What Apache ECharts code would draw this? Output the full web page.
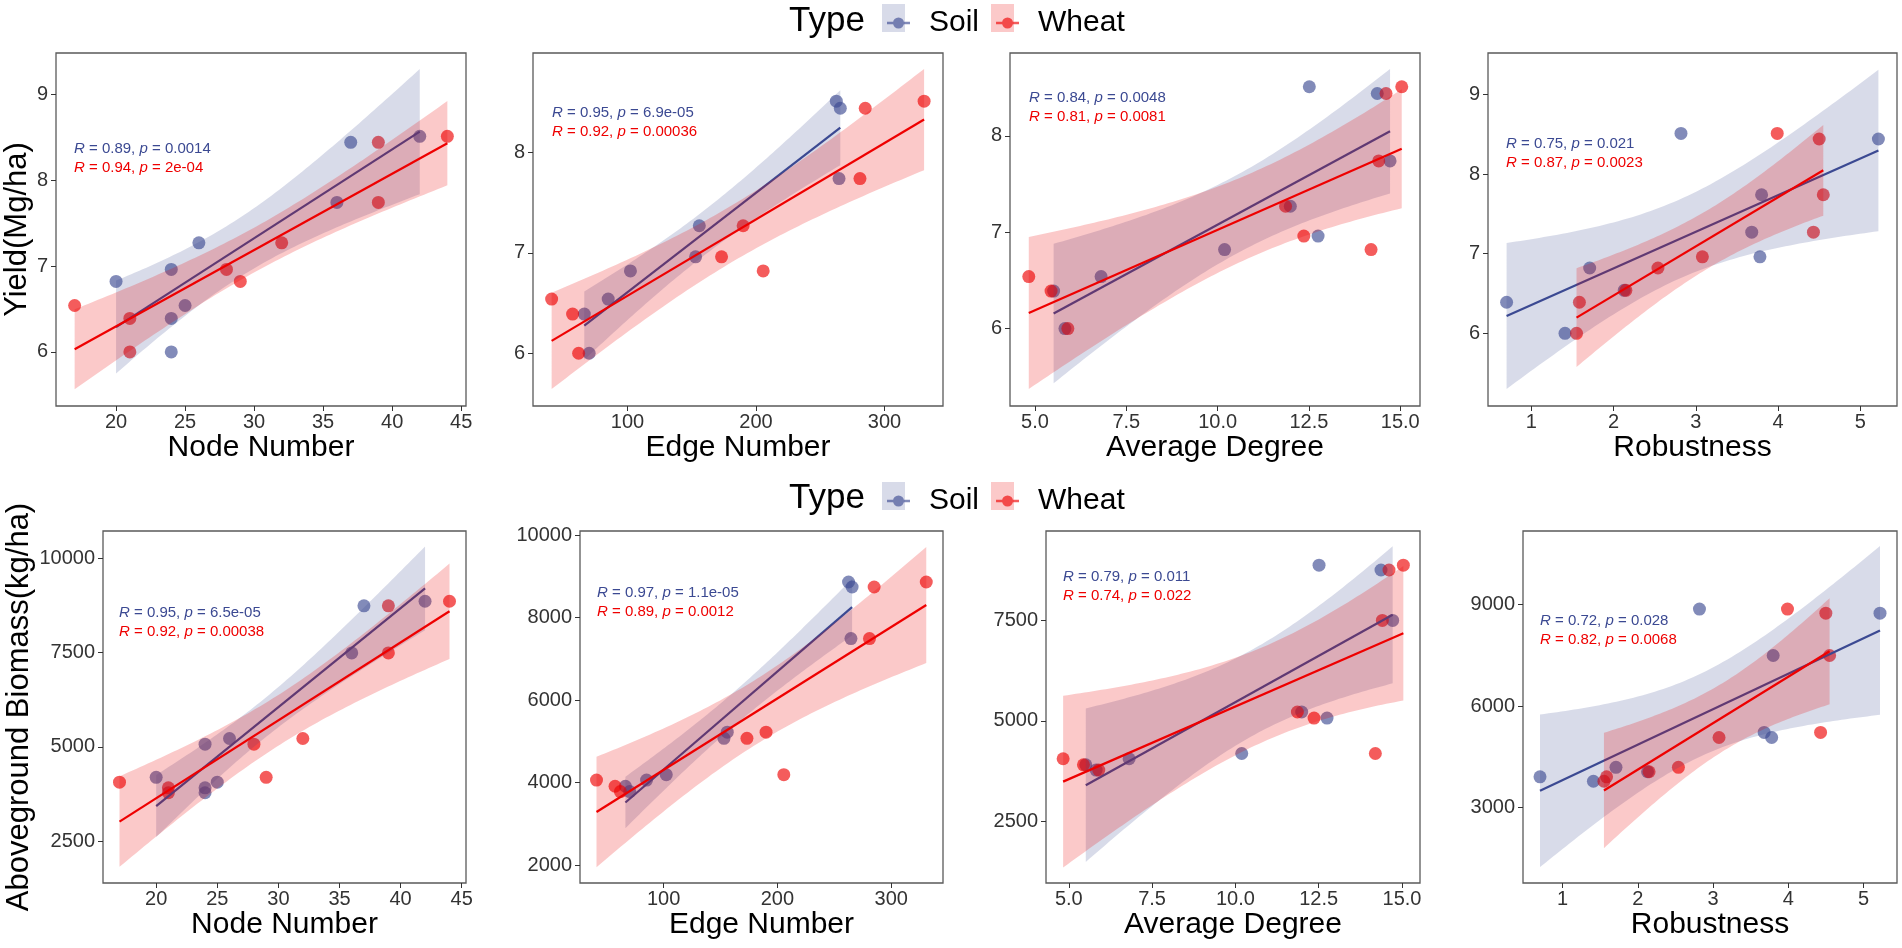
<!DOCTYPE html>
<html>
<head>
<meta charset="utf-8">
<title>Network properties vs yield and biomass</title>
<script src="https://cdn.jsdelivr.net/npm/echarts@6/dist/echarts.min.js"></script>
<style>
  html, body { margin: 0; padding: 0; background: #fff; }
  #chart { width: 1902px; height: 948px; }
</style>
</head>
<body>
<div id="chart"></div>
<script>
// yield / biomass of the 9 plots (same order in every x array)
var yieldVals = [8.51, 8.44, 7.74, 7.27, 6.96, 6.82, 6.54, 6.39, 6.00]
var biomassVals = [8860, 8740, 7490, 5220, 5070, 4190, 4060, 3910, 3780]

var soilNode = [42, 37, 36, 26, 24, 20, 25, 24, 24]
var wheatNode = [44, 39, 39, 32, 28, 29, 17, 21, 21]
var soilEdge = [262.5, 265.6, 264.6, 155.9, 153, 102.3, 85, 66.4, 70.2]
var wheatEdge = [330.8, 285, 280.9, 190, 173.2, 205.6, 41, 57.3, 62]
var soilDegree = [12.51, 14.37, 14.72, 11.99, 12.75, 10.19, 6.81, 5.51, 5.82]
var wheatDegree = [15.04, 14.61, 14.41, 11.86, 12.36, 14.2, 4.83, 5.44, 5.9]
var soilRobust = [2.82, 5.22, 3.80, 3.68, 3.78, 1.71, 2.13, 0.70, 1.41]
var wheatRobust = [3.99, 4.50, 4.55, 4.43, 3.08, 2.54, 2.15, 1.585, 1.55]

// correlation labels, panel order: top row then bottom row
var soilR = [0.89, 0.95, 0.84, 0.75, 0.95, 0.97, 0.79, 0.72]
var soilP = ['0.0014', '6.9e-05', '0.0048', '0.021', '6.5e-05', '1.1e-05', '0.011', '0.028']
var wheatR = [0.94, 0.92, 0.81, 0.87, 0.92, 0.89, 0.74, 0.82]
var wheatP = ['2e-04', '0.00036', '0.0081', '0.0023', '0.00038', '0.0012', '0.022', '0.0068']

// tick labels
var nodeTicks = [20, 25, 30, 35, 40, 45]
var edgeTicks = [100, 200, 300]
var degreeTicks = [5, 7.5, 10, 12.5, 15]
var robustTicks = [1, 2, 3, 4, 5]
var yieldTicks14 = [6, 7, 8, 9]
var yieldTicks23 = [6, 7, 8]
var bioTicks5 = [2500, 5000, 7500, 10000]
var bioTicks6 = [2000, 4000, 6000, 8000, 10000]
var bioTicks7 = [2500, 5000, 7500]
var bioTicks8 = [3000, 6000, 9000]

var FONT = 'Liberation Sans, Arial, sans-serif'
var T_CRIT = 2.364624 // qt(0.975, df = 7)

var groups = [
	{ name: 'Soil', point: 'rgba(59,73,146,0.8)', line: '#3B4992', fill: 'rgba(59,73,146,0.2)', text: '#3B4992' },
	{ name: 'Wheat', point: 'rgba(238,0,0,0.8)', line: '#EE0000', fill: 'rgba(238,0,0,0.21)', text: '#EE0000' }
]

// layout of each panel: [left, top, width, height], axis extents, label positions
var panels = [
	{ grid: [56, 53, 410, 353], x: [15.65, 45.35], y: [5.37, 9.48], xt: nodeTicks, yt: yieldTicks14,
		xs: [soilNode, wheatNode], ys: yieldVals, xName: 'Node Number', yName: 'Yield(Mg/ha)', yGap: 21, ann: [74, 141, 160] },
	{ grid: [533, 53, 410, 353], x: [26.5, 345.5], y: [5.475, 8.99], xt: edgeTicks, yt: yieldTicks23,
		xs: [soilEdge, wheatEdge], ys: yieldVals, xName: 'Edge Number', ann: [552, 105, 124] },
	{ grid: [1010, 53, 410, 353], x: [4.316, 15.54], y: [5.197, 8.86], xt: degreeTicks, yt: yieldTicks23,
		xs: [soilDegree, wheatDegree], ys: yieldVals, xName: 'Average Degree', dec: 1, ann: [1029, 90, 109] },
	{ grid: [1488, 53, 409, 353], x: [0.474, 5.446], y: [5.087, 9.52], xt: robustTicks, yt: yieldTicks14,
		xs: [soilRobust, wheatRobust], ys: yieldVals, xName: 'Robustness', ann: [1506, 136, 155] },
	{ grid: [103, 531, 363, 352], x: [15.65, 45.35], y: [1386, 10724], xt: nodeTicks, yt: bioTicks5,
		xs: [soilNode, wheatNode], ys: biomassVals, xName: 'Node Number', yName: 'Aboveground Biomass(kg/ha)', yGap: 68, ann: [119, 605, 624] },
	{ grid: [580, 531, 363, 352], x: [26.5, 345.5], y: [1564, 10097], xt: edgeTicks, yt: bioTicks6,
		xs: [soilEdge, wheatEdge], ys: biomassVals, xName: 'Edge Number', ann: [597, 585, 604] },
	{ grid: [1046, 531, 374, 352], x: [4.316, 15.54], y: [980, 9707], xt: degreeTicks, yt: bioTicks7,
		xs: [soilDegree, wheatDegree], ys: biomassVals, xName: 'Average Degree', dec: 1, ann: [1063, 569, 588] },
	{ grid: [1523, 531, 374, 352], x: [0.474, 5.446], y: [778, 11163], xt: robustTicks, yt: bioTicks8,
		xs: [soilRobust, wheatRobust], ys: biomassVals, xName: 'Robustness', ann: [1540, 613, 632] }
]

// ordinary least squares fit with a 95% confidence band (like geom_smooth(method = 'lm'))
function fitLine(xs, ys) {
	var n = xs.length
	var mx = xs.reduce(function (s, v) { return s + v }, 0) / n
	var my = ys.reduce(function (s, v) { return s + v }, 0) / n
	var sxx = 0, sxy = 0, sse = 0
	for (var i = 0; i < n; i++) {
		sxx += (xs[i] - mx) * (xs[i] - mx)
		sxy += (xs[i] - mx) * (ys[i] - my)
	}
	var b = sxy / sxx, a = my - b * mx
	for (var j = 0; j < n; j++) {
		sse += Math.pow(ys[j] - a - b * xs[j], 2)
	}
	var s = Math.sqrt(sse / (n - 2))
	var lo = Math.min.apply(null, xs), hi = Math.max.apply(null, xs)
	var band = []
	for (var k = 0; k <= 80; k++) {
		var x = lo + (hi - lo) * k / 80
		var yh = a + b * x
		var se = s * Math.sqrt(1 / n + (x - mx) * (x - mx) / sxx)
		band.push([x, yh - T_CRIT * se, yh + T_CRIT * se])
	}
	return { line: [[lo, a + b * lo], [hi, a + b * hi]], band: band }
}

function bandRenderer(band, fill) {
	return function (params, api) {
		if (params.dataIndex !== 0) return
		var pts = []
		band.forEach(function (d) { pts.push(api.coord([d[0], d[2]])) })
		band.slice().reverse().forEach(function (d) { pts.push(api.coord([d[0], d[1]])) })
		return { type: 'polygon', shape: { points: pts }, style: { fill: fill } }
	}
}

var grids = [], xAxes = [], yAxes = [], series = [], titles = []

panels.forEach(function (p, k) {
	grids.push({
		left: p.grid[0], top: p.grid[1], width: p.grid[2], height: p.grid[3],
		show: true, borderColor: '#5a5a5a', borderWidth: 1.3, backgroundColor: 'transparent'
	})
	xAxes.push({
		gridIndex: k, type: 'value', min: p.x[0], max: p.x[1],
		axisLine: { show: false, onZero: false },
		splitLine: { show: false },
		axisTick: { show: true, length: 5, lineStyle: { color: '#333' }, customValues: p.xt },
		axisLabel: {
			fontSize: 20, color: '#333', margin: 6, fontFamily: FONT, customValues: p.xt,
			formatter: function (v) { return p.dec ? v.toFixed(p.dec) : String(v) }
		},
		name: p.xName, nameLocation: 'middle', nameGap: 27,
		nameTextStyle: { fontSize: 30, color: '#000', fontFamily: FONT }
	})
	yAxes.push({
		gridIndex: k, type: 'value', min: p.y[0], max: p.y[1],
		axisLine: { show: false, onZero: false },
		splitLine: { show: false },
		axisTick: { show: true, length: 5, lineStyle: { color: '#333' }, customValues: p.yt },
		axisLabel: {
			fontSize: 20, color: '#333', margin: 8, fontFamily: FONT, customValues: p.yt,
			formatter: function (v) { return String(v) }
		},
		name: p.yName || '', nameLocation: 'middle', nameGap: p.yGap || 0,
		nameTextStyle: { fontSize: 31, color: '#000', fontFamily: FONT }
	})

	// points first, then ribbon + line of each group (ggplot drawing order)
	groups.forEach(function (g, gi) {
		series.push({
			type: 'scatter', name: g.name, xAxisIndex: k, yAxisIndex: k,
			data: p.xs[gi].map(function (x, i) { return [x, p.ys[i]] }),
			symbolSize: 13, itemStyle: { color: g.point }, z: 2, silent: true
		})
	})
	groups.forEach(function (g, gi) {
		var f = fitLine(p.xs[gi], p.ys)
		series.push({
			type: 'custom', name: g.name, xAxisIndex: k, yAxisIndex: k,
			data: f.band, encode: { x: 0, y: [1, 2] },
			renderItem: bandRenderer(f.band, g.fill), silent: true, z: 3 + gi * 2
		})
		series.push({
			type: 'line', name: g.name, xAxisIndex: k, yAxisIndex: k,
			data: f.line, symbol: 'none', silent: true,
			lineStyle: { color: g.line, width: 2.2 }, z: 4 + gi * 2
		})
	})

	var italic = { fontStyle: 'italic', fontSize: 15, fontFamily: FONT }
	titles.push({
		text: '{i|R} = ' + soilR[k].toFixed(2) + ', {i|p} = ' + soilP[k],
		left: p.ann[0], top: p.ann[1], padding: 0,
		textStyle: { fontSize: 15, fontWeight: 'normal', color: groups[0].text, fontFamily: FONT,
			rich: { i: Object.assign({ color: groups[0].text }, italic) } }
	})
	titles.push({
		text: '{i|R} = ' + wheatR[k].toFixed(2) + ', {i|p} = ' + wheatP[k],
		left: p.ann[0], top: p.ann[2], padding: 0,
		textStyle: { fontSize: 15, fontWeight: 'normal', color: groups[1].text, fontFamily: FONT,
			rich: { i: Object.assign({ color: groups[1].text }, italic) } }
	})
})

// legend titles
titles.push({ text: 'Type', left: 789, top: 4, padding: 0,
	textStyle: { fontSize: 35, fontWeight: 'normal', color: '#000', fontFamily: FONT } })
titles.push({ text: 'Type', left: 789, top: 481, padding: 0,
	textStyle: { fontSize: 35, fontWeight: 'normal', color: '#000', fontFamily: FONT } })

var keyIcon = 'path://M0,12.8h23v2.4h-23z M17,14A5.5,5.5 0 1 1 6,14A5.5,5.5 0 1 1 17,14Z'
function legendAt(top) {
	return {
		data: ['Soil', 'Wheat'], left: 882, top: top, orient: 'horizontal',
		itemWidth: 23, itemHeight: 28, itemGap: 17, icon: keyIcon, selectedMode: false,
		textStyle: { fontSize: 30, color: '#000', fontFamily: FONT, padding: [0, 0, 0, 14] }
	}
}

// light ribbon-coloured squares behind the legend keys
var keyBoxes = []
;[3, 481].forEach(function (top) {
	keyBoxes.push({ type: 'rect', left: 882, top: top + 1, shape: { width: 23, height: 28 }, style: { fill: groups[0].fill }, z: 0 })
	keyBoxes.push({ type: 'rect', left: 991, top: top + 1, shape: { width: 23, height: 28 }, style: { fill: groups[1].fill }, z: 0 })
})

var myChart = echarts.init(document.getElementById('chart'))
myChart.setOption({
	animation: false,
	backgroundColor: '#fff',
	textStyle: { fontFamily: FONT },
	title: titles,
	legend: [legendAt(3), legendAt(481)],
	graphic: keyBoxes,
	grid: grids,
	xAxis: xAxes,
	yAxis: yAxes,
	series: series
})
</script>
</body>
</html>
